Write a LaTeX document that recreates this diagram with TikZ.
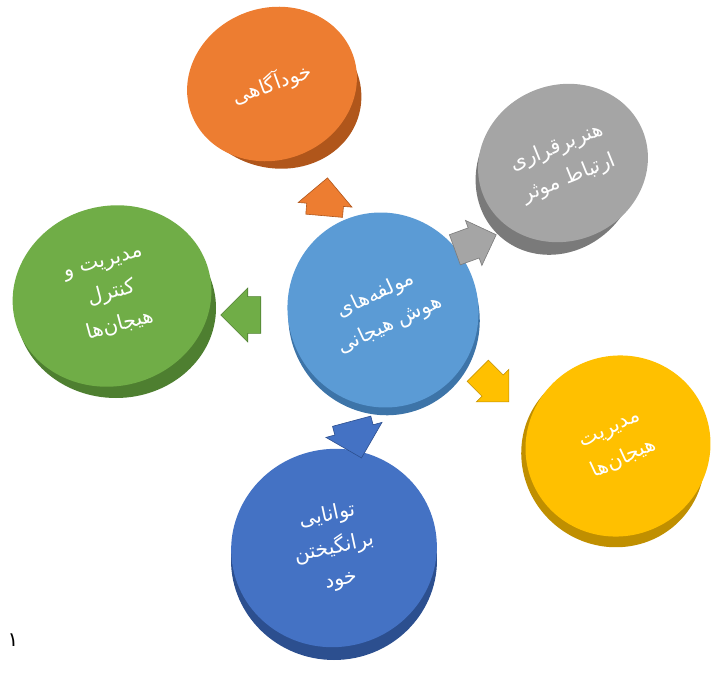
\documentclass[tikz,border=0pt]{standalone}
\usepackage{fontspec}
\TeXXeTstate=1
\newfontfamily\arabicfont[Script=Arabic]{DejaVu Sans}
\usetikzlibrary{shapes.geometric,shapes.arrows}
\definecolor{cOrange}{HTML}{ED7D31}\definecolor{cOrangeD}{HTML}{B0561B}
\definecolor{cGray}{HTML}{A5A5A5}\definecolor{cGrayD}{HTML}{7A7A7A}
\definecolor{cBlueL}{HTML}{5B9BD5}\definecolor{cBlueLD}{HTML}{3D74A8}
\definecolor{cGreen}{HTML}{70AD47}\definecolor{cGreenD}{HTML}{4E7F30}
\definecolor{cYellow}{HTML}{FFC000}\definecolor{cYellowD}{HTML}{C08F00}
\definecolor{cBlue}{HTML}{4472C4}\definecolor{cBlueD}{HTML}{2C4F8F}
\begin{document}
\begin{tikzpicture}[x=1pt,y=-1pt,
  disc/.style={ellipse, inner sep=0pt, text=white, align=center,
    font=\arabicfont\fontsize{20.5}{33}\selectfont},
  rimdisc/.style={ellipse, inner sep=0pt},
  blockarrow/.style={single arrow, inner xsep=0pt, single arrow head indent=0pt,
    line width=0.6pt}]
\useasboundingbox (0,0) rectangle (726,674);
% orange
\node[rimdisc, fill=cOrangeD, minimum width=172, minimum height=152, rotate=-15] (o-rim) at (276,92) {};
\node[disc, fill=cOrange, minimum width=172, minimum height=152, rotate=20] (o) at (272,84) {\beginR خودآگاهی\endR};
% gray
\node[rimdisc, fill=cGrayD, minimum width=172, minimum height=156, rotate=50] (g-rim) at (557,172) {};
\node[disc, fill=cGray, minimum width=172, minimum height=156, rotate=22] (g) at (563,163) {\beginR هنربرقراری\endR\\\beginR ارتباط موثر\endR};
% green
\node[rimdisc, fill=cGreenD, minimum width=200, minimum height=180] (gr-rim) at (116,308) {};
\node[disc, fill=cGreen, minimum width=200, minimum height=180, rotate=15] (gr) at (112,296) {\beginR مدیریت و\endR\\\beginR کنترل\endR\\\beginR هیجان^^^^200cها\endR};
% center
\node[rimdisc, fill=cBlueLD, minimum width=190, minimum height=196, rotate=30] (c-rim) at (384,318) {};
\node[disc, fill=cBlueL, minimum width=190, minimum height=196, rotate=25] (c) at (383,310) {\beginR مولفه^^^^200cهای\endR\\\beginR هوش هیجانی\endR};
% yellow
\node[rimdisc, fill=cYellowD, minimum width=186, minimum height=180, rotate=-40] (y-rim) at (613,456) {};
\node[disc, fill=cYellow, minimum width=186, minimum height=180, rotate=25] (y) at (618,446) {\beginR مدیریت\endR\\\beginR هیجان^^^^200cها\endR};
% blue
\node[rimdisc, fill=cBlueD, minimum width=206, minimum height=200] (b-rim) at (334,560) {};
\node[disc, fill=cBlue, minimum width=206, minimum height=198, rotate=12] (b) at (334,548) {\beginR توانایی\endR\\\beginR برانگیختن\endR\\\beginR خود\endR};
% arrows
\node[blockarrow, fill=cOrange, draw=cOrangeD, inner ysep=15pt, minimum height=38, minimum width=54, rotate=85] (a-o) at (325,206) {};
\node[blockarrow, fill=cGray, draw=cGrayD, inner ysep=14pt, minimum height=44, minimum width=48, rotate=20] (a-g) at (468,245) {};
\node[blockarrow, fill=cYellow, draw=cYellowD, inner ysep=13pt, minimum height=44, minimum width=46, rotate=-45] (a-y) at (488,381) {};
\node[blockarrow, fill=cBlue, draw=cBlueD, inner ysep=15pt, minimum height=38, minimum width=58, rotate=-75] (a-b) at (354,430) {};
\node[blockarrow, fill=cGreen, draw=cGreenD, inner ysep=15pt, minimum height=40, minimum width=54, rotate=180] (a-gr) at (250,315) {};
% page number
\node[font=\arabicfont\fontsize{20}{24}\selectfont] (pn) at (13,640) {۱};
\end{tikzpicture}
\end{document}
